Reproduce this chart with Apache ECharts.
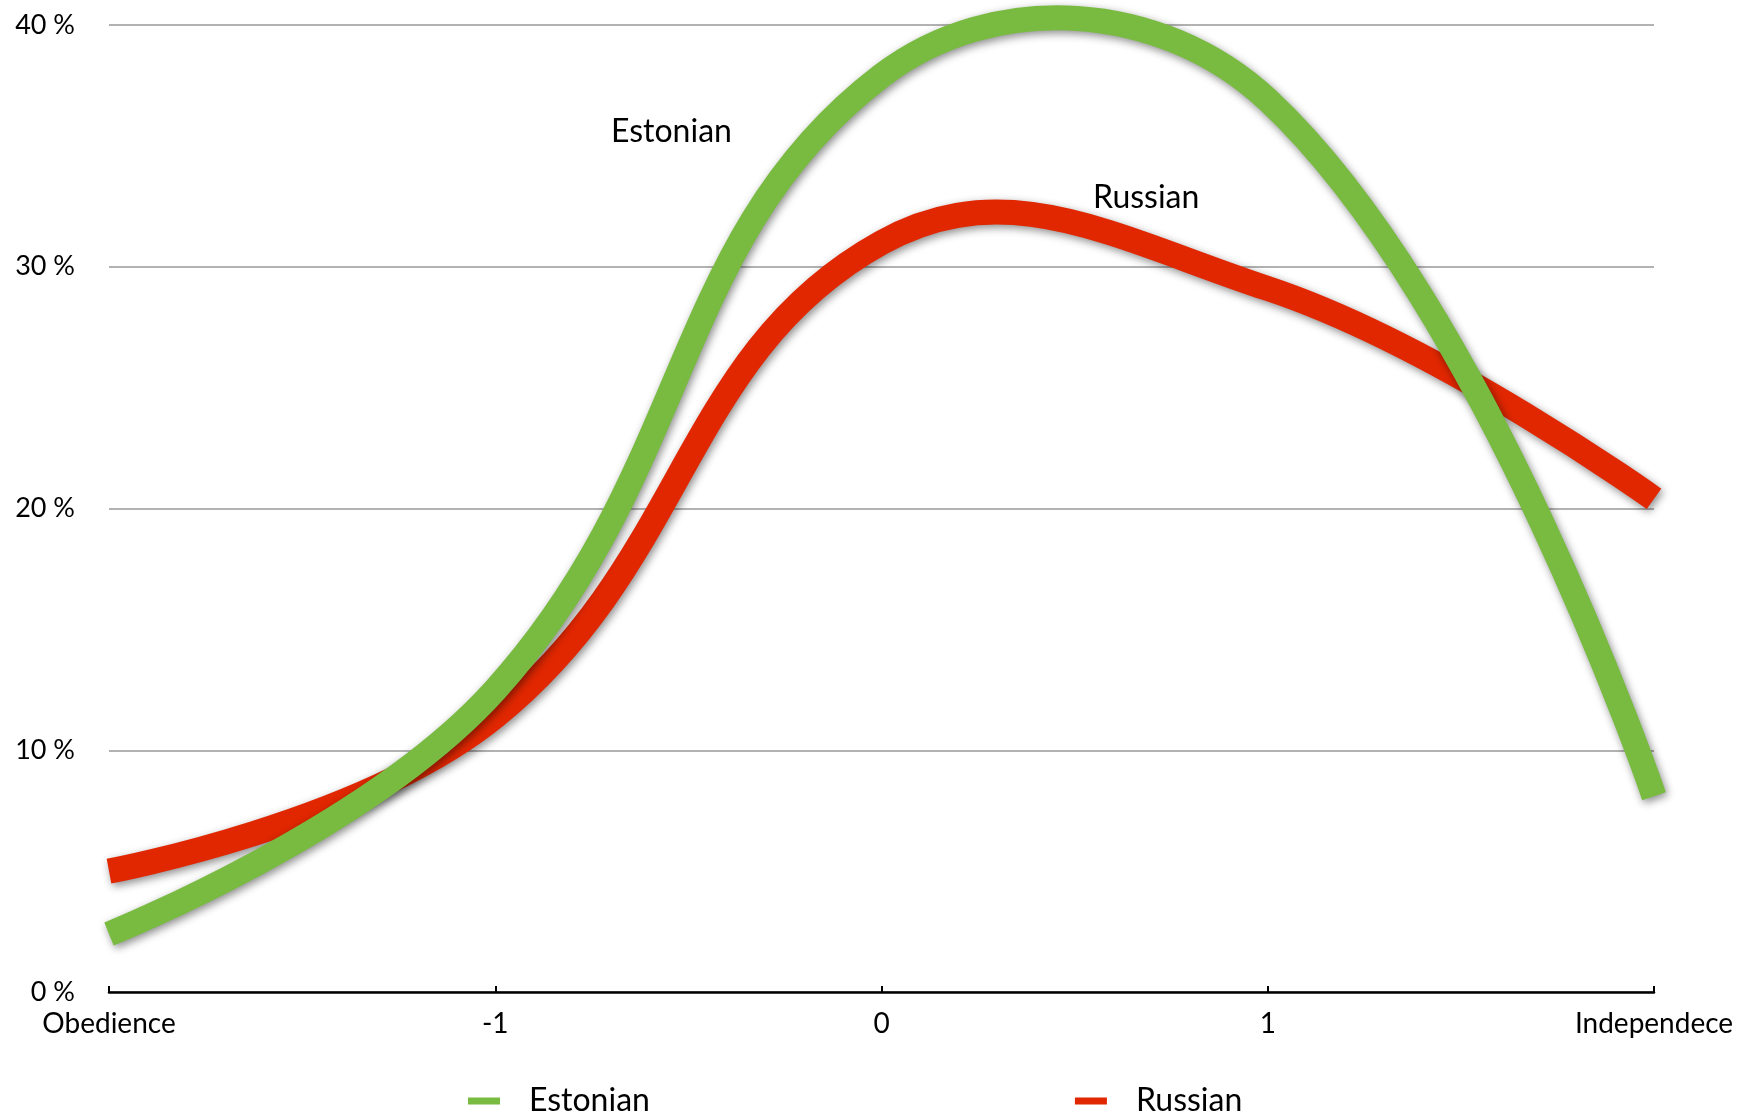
<!DOCTYPE html>
<html>
<head>
<meta charset="utf-8">
<script src="https://cdn.jsdelivr.net/npm/echarts@6/dist/echarts.min.js"></script>
<style>
html,body{margin:0;padding:0;background:#fff;}
#chart{width:1751px;height:1114px;}
</style>
</head>
<body>
<div id="chart"></div>
<script>
const categories = ['Obedience', '-1', '0', '1', 'Independece'];
const estonian = [2.4, 12.5, 37.9, 36.9, 8.1];
const russian  = [5.0, 11.4, 31.0, 29.1, 20.4];
const yTicks = { min: 0, max: 40, interval: 10 };

const FONT = 'Lato';
const GREEN = '#79bb41';
const RED = '#e12700';

const chart = echarts.init(document.getElementById('chart'));

// Smooth spline through the data points, positioned by the chart's own axes (api.coord)
function splineSeries(name, values, color) {
  return {
    name: name,
    type: 'custom',
    coordinateSystem: 'cartesian2d',
    data: values.map((v, i) => [i, v]),
    itemStyle: { color: color },
    encode: { x: 0, y: 1 },
    clip: false,
    renderItem: function (params, api) {
      if (params.dataIndex !== 0) return null;
      const pts = values.map((v, i) => api.coord([i, v]));
      return {
        type: 'polyline',
        shape: { points: pts, smooth: 0.42 },
        style: {
          fill: null, stroke: color, lineWidth: 25, lineCap: 'butt', lineJoin: 'round',
          shadowColor: 'rgba(0,0,0,0.45)', shadowBlur: 8, shadowOffsetX: 2, shadowOffsetY: 3
        },
        silent: true
      };
    }
  };
}

chart.setOption({
  animation: false,
  backgroundColor: '#fff',
  grid: { left: 109, right: 97, top: 25, bottom: 122, containLabel: false },
  xAxis: {
    type: 'category',
    data: categories,
    boundaryGap: false,
    axisLine: { onZero: false, lineStyle: { color: '#000', width: 2.5 } },
    axisTick: { show: true, inside: true, length: 6, alignWithLabel: true, lineStyle: { color: '#000', width: 2 } },
    axisLabel: { color: '#000', fontFamily: FONT, fontSize: 28, margin: 18 },
    splitLine: { show: false }
  },
  yAxis: {
    type: 'value',
    min: yTicks.min, max: yTicks.max, interval: yTicks.interval,
    axisLine: { show: false, onZero: false },
    axisTick: { show: false },
    axisLabel: { color: '#000', fontFamily: FONT, fontSize: 27, align: 'right', margin: 34, formatter: '{value} %' },
    splitLine: { lineStyle: { color: '#b2b2b2', width: 2 } }
  },
  legend: {
    left: 463, top: 1080,
    icon: 'rect', itemWidth: 32, itemHeight: 7, itemGap: 425,
    itemStyle: { shadowBlur: 0, shadowOffsetX: 0, shadowOffsetY: 0 },
    textStyle: { color: '#000', fontFamily: FONT, fontSize: 32, padding: [0, 0, 0, 24] },
    data: ['Estonian', 'Russian']
  },
  graphic: [
    { type: 'text', left: 611, top: 116, style: { text: 'Estonian', fill: '#000', font: '32px ' + FONT } },
    { type: 'text', left: 1093, top: 182, style: { text: 'Russian', fill: '#000', font: '32px ' + FONT } }
  ],
  series: [
    splineSeries('Russian', russian, RED),
    splineSeries('Estonian', estonian, GREEN)
  ]
});
</script>
</body>
</html>
